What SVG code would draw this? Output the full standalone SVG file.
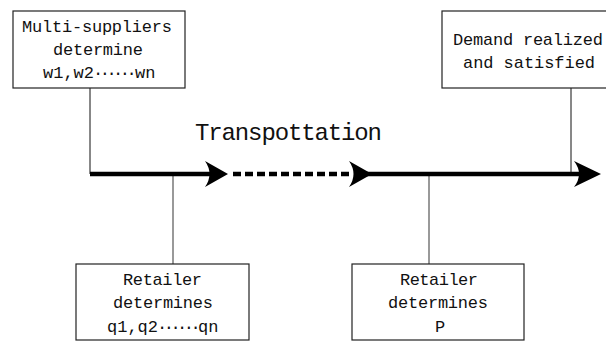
<svg xmlns="http://www.w3.org/2000/svg" width="606" height="341" viewBox="0 0 606 341">
<style>
.box{fill:#fff;stroke:#222;stroke-width:1.2}
.t{font-family:"Liberation Mono",monospace;font-size:17px;fill:#111}
.dots{letter-spacing:-3.5px}
.big{font-family:"Liberation Mono",monospace;font-size:24px;fill:#111}
.thin{stroke:#111;stroke-width:1;fill:none}
.gray{stroke:#777;stroke-width:1.5;fill:none}
.main{stroke:#000;stroke-width:4.5;fill:none}
.head{fill:#000}
</style>
<rect width="606" height="341" fill="#fff"/>
<g id="connectors">
<line class="thin" x1="90" y1="88" x2="90" y2="174"/>
<line class="thin" x1="571" y1="88" x2="571" y2="174"/>
<line class="gray" x1="173" y1="174" x2="173" y2="264"/>
<line class="gray" x1="429" y1="174" x2="429" y2="264"/>
<line class="main" x1="90" y1="174" x2="215" y2="174"/>
<line class="main" x1="233" y1="174" x2="352" y2="174" stroke-dasharray="8,4"/>
<line class="main" x1="360" y1="174" x2="585" y2="174"/>
<path class="head" d="M228,174 L205,161 Q214,174 205,187 Z"/>
<path class="head" d="M372,174 L349,161 Q358,174 349,187 Z"/>
<path class="head" d="M601,174 L574,161 Q584,174 574,187 Z"/>
</g>
<g id="node-suppliers">
<rect class="box" x="13" y="11" width="172" height="77"/>
<text class="t" x="22" y="32" textLength="150" lengthAdjust="spacing">Multi-suppliers</text>
<text class="t" x="53" y="55" textLength="90" lengthAdjust="spacing">determine</text>
<text class="t" y="78"><tspan x="43">w1,w2</tspan><tspan class="dots" x="93">······</tspan><tspan x="135">wn</tspan></text>
</g>
<g id="node-demand">
<rect class="box" x="442" y="11" width="170" height="77"/>
<text class="t" x="453" y="45" textLength="150" lengthAdjust="spacing">Demand realized</text>
<text class="t" x="463" y="68" textLength="132" lengthAdjust="spacing">and satisfied</text>
</g>
<g id="node-label">
<text class="big" x="195" y="140" textLength="187" lengthAdjust="spacing">Transpottation</text>
</g>
<g id="node-retailer-q">
<rect class="box" x="76" y="264" width="173" height="76"/>
<text class="t" x="123" y="285" textLength="79" lengthAdjust="spacing">Retailer</text>
<text class="t" x="113" y="308" textLength="100" lengthAdjust="spacing">determines</text>
<text class="t" y="332"><tspan x="107">q1,q2</tspan><tspan class="dots" x="157">······</tspan><tspan x="198">qn</tspan></text>
</g>
<g id="node-retailer-p">
<rect class="box" x="352" y="264" width="172" height="76"/>
<text class="t" x="400" y="285" textLength="78" lengthAdjust="spacing">Retailer</text>
<text class="t" x="388" y="308" textLength="100" lengthAdjust="spacing">determines</text>
<text class="t" x="435" y="332">P</text>
</g>
</svg>
